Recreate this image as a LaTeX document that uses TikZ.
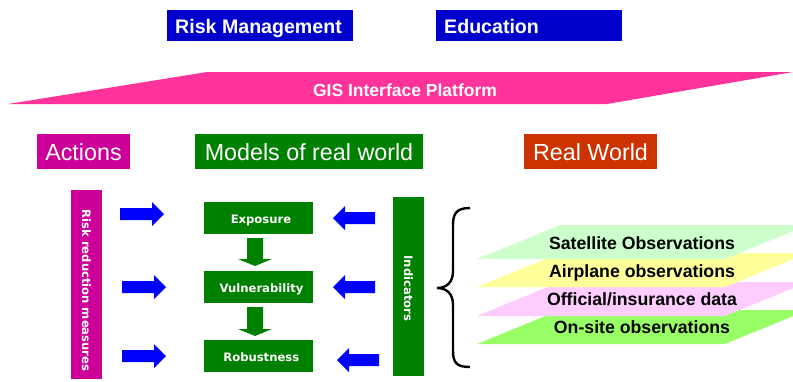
\documentclass[tikz,border=0pt]{standalone}
\usepackage{fontspec}
\setmainfont{Liberation Sans}
\newfontfamily\vfont{DejaVu Sans}
\definecolor{rmblue}{HTML}{0000CC}
\definecolor{gispink}{HTML}{FF3399}
\definecolor{actmag}{HTML}{CC0099}
\definecolor{modgreen}{HTML}{008000}
\definecolor{rwred}{HTML}{CC3300}
\definecolor{arrblue}{HTML}{0000FF}
\definecolor{laysat}{HTML}{CCFFCC}
\definecolor{layair}{HTML}{FFFF99}
\definecolor{layoff}{HTML}{FFCCFF}
\definecolor{layons}{HTML}{99FF66}
\tikzset{
  topbox/.style={text=white, font=\fontsize{19.6}{20}\selectfont\bfseries, anchor=base west, inner sep=0pt},
  headbox/.style={text=white, font=\fontsize{23.3}{24}\selectfont, anchor=base, inner sep=0pt},
  modbox/.style={fill=modgreen, minimum width=109pt, minimum height=32pt, inner sep=0pt},
  modtext/.style={text=white, font=\vfont\fontsize{11.6}{12}\selectfont\bfseries, anchor=base, inner sep=0pt},
  vtext/.style={text=white, font=\vfont\fontsize{11.6}{12}\selectfont\bfseries, rotate=-90, inner sep=0pt},
  laytext/.style={font=\fontsize{17.7}{18}\selectfont\bfseries, anchor=base, inner sep=0pt},
}
\newcommand{\rarrow}[2]{\fill[arrblue] (#1,#2-6) -- (#1+32,#2-6) -- (#1+32,#2-12) -- (#1+44,#2) -- (#1+32,#2+12) -- (#1+32,#2+6) -- (#1,#2+6) -- cycle;}
\newcommand{\larrow}[2]{\fill[arrblue] (#1,#2-6) -- (#1-30,#2-6) -- (#1-30,#2-12) -- (#1-42,#2) -- (#1-30,#2+12) -- (#1-30,#2+6) -- (#1,#2+6) -- cycle;}
\newcommand{\darrow}[3]{\fill[modgreen] (247,#1) -- (263,#1) -- (263,#2) -- (272,#2) -- (255,#3) -- (238,#2) -- (247,#2) -- cycle;}
\newcommand{\layer}[2]{\fill[#2] (477,#1) -- (560,#1-34) -- (808,#1-34) -- (725,#1) -- cycle;}
\begin{document}
\begin{tikzpicture}[x=1pt,y=-1pt]
\useasboundingbox (0,0) rectangle (793,381);
\clip (0,0) rectangle (793,381);
% top boxes
\fill[rmblue] (167,10) rectangle (353,41);
\fill[rmblue] (436,10) rectangle (622,41);
\node[topbox] (rm) at (175,33) {Risk Management};
\node[topbox] (edu) at (444,33) {Education};
% GIS platform
\fill[gispink] (8,104) -- (207,72) -- (793,72) -- (607,104) -- cycle;
\node[text=white, font=\fontsize{17.5}{18}\selectfont\bfseries, anchor=base, inner sep=0pt] (gis) at (405,96) {GIS Interface Platform};
% headings
\fill[actmag] (37,134) rectangle (130,169);
\node[headbox] (act) at (83.5,160) {Actions};
\fill[modgreen] (195,134) rectangle (423,169);
\node[headbox] (mod) at (309,160) {Models of real world};
\fill[rwred] (524,134) rectangle (657,169);
\node[headbox] (rw) at (590.5,160) {Real World};
% side bars
\fill[actmag] (71,190) rectangle (102,379);
\node[vtext] (rrm) at (86.5,290.5) {Risk reduction measures};
\fill[modgreen] (393,197) rectangle (424,376);
\node[vtext] (ind) at (408.5,288.5) {Indicators};
% model boxes
\node[modbox] (exp) at (258.5,218) {};
\node[modbox] (vul) at (258.5,287) {};
\node[modbox] (rob) at (258.5,356) {};
\node[modtext] (expt) at (261,223.3) {Exposure};
\node[modtext] (vult) at (261.5,292.7) {Vulnerability};
\node[modtext] (robt) at (261.3,361.7) {Robustness};
% green down arrows
\darrow{238}{259}{266}
\darrow{307}{329}{336}
% blue arrows
\rarrow{120}{214}
\rarrow{122}{287}
\rarrow{122}{356}
\larrow{375}{218}
\larrow{375}{287}
\larrow{379}{360}
% brace
\draw[line width=2.4pt] (470,208) .. controls (457,208) and (453,213) .. (453,225) -- (453,271) .. controls (453,282) and (447,288) .. (437,288) .. controls (447,288) and (453,294) .. (453,305) -- (453,351) .. controls (453,363) and (457,367) .. (470,367);
% layers
\layer{344}{layons}
\layer{316}{layoff}
\layer{287}{layair}
\layer{259}{laysat}
\node[laytext] (sat) at (642,249) {Satellite Observations};
\node[laytext] (air) at (642,277) {Airplane observations};
\node[laytext] (off) at (642,305) {Official/insurance data};
\node[laytext] (ons) at (642,333) {On-site observations};
\end{tikzpicture}
\end{document}
